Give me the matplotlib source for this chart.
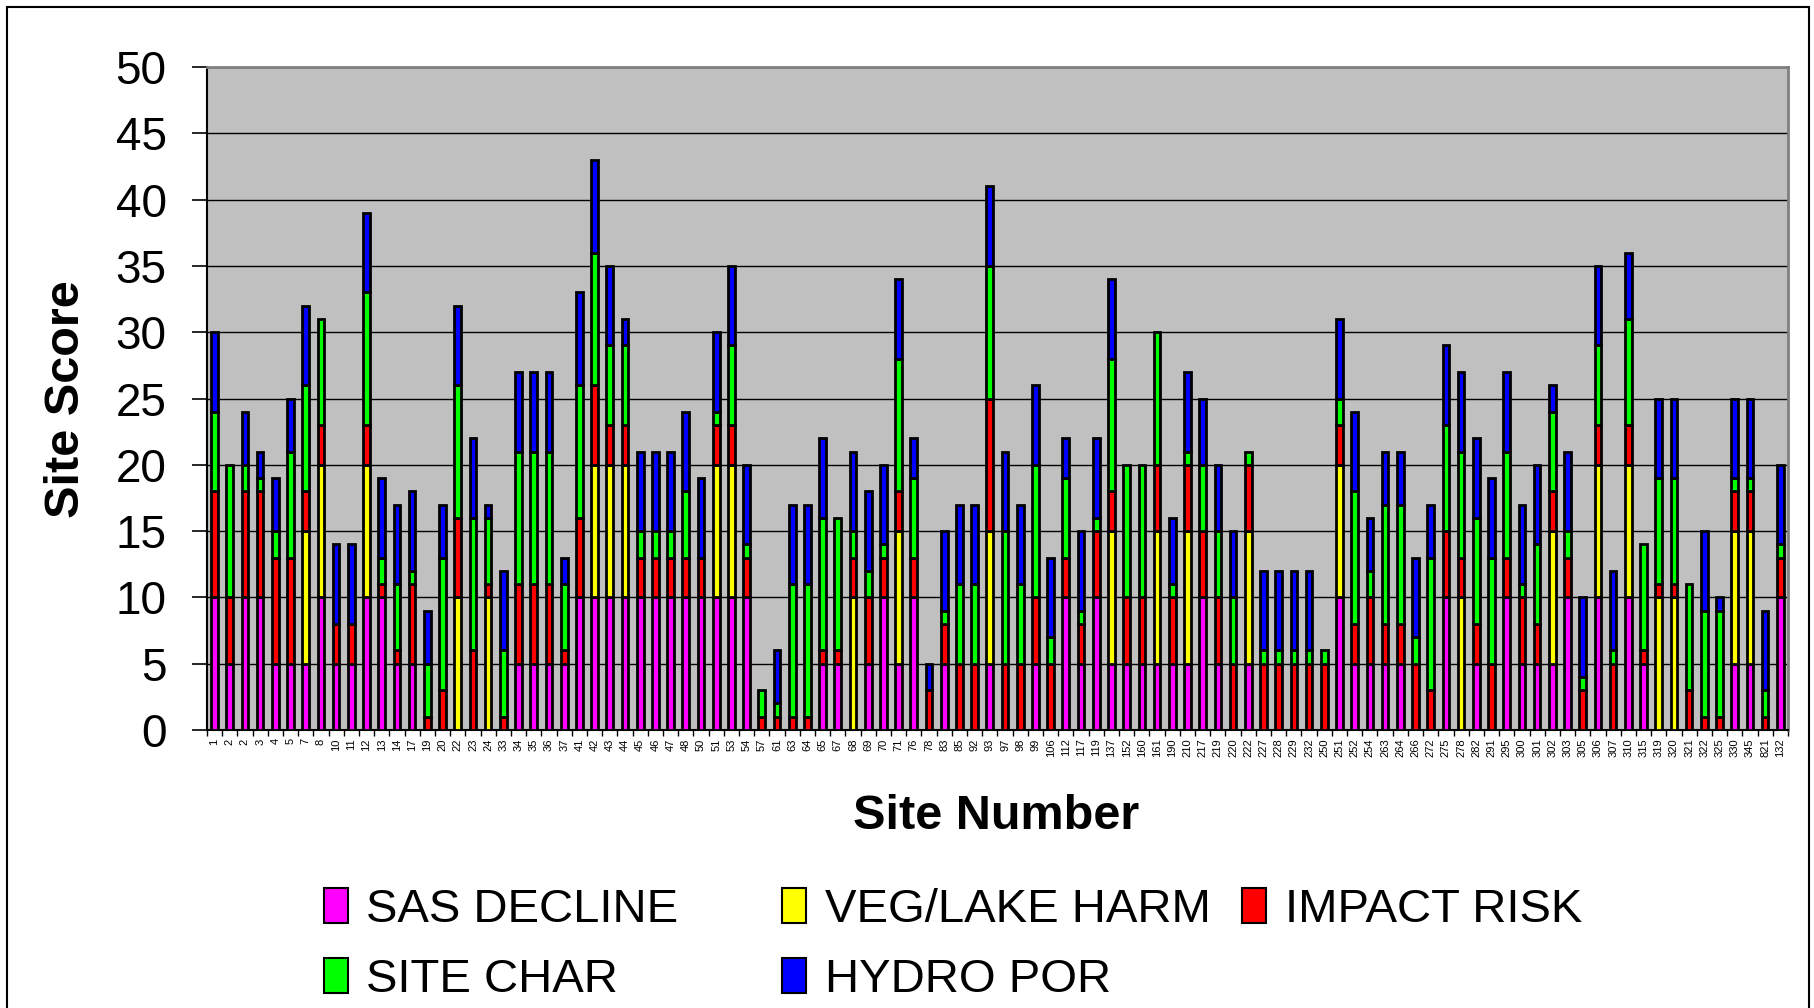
import matplotlib.pyplot as plt
import numpy as np
from matplotlib.patches import Patch, Rectangle

plt.rcParams['font.family'] = ['Liberation Sans', 'DejaVu Sans']

sites = ["1", "2", "2", "3", "4", "5", "7", "8", "10", "11", "12", "13", "14", "17", "19", "20",
         "22", "23", "24", "33", "34", "35", "36", "37", "41", "42", "43", "44", "45", "46", "47",
         "48", "50", "51", "53", "54", "57", "61", "63", "64", "65", "67", "68", "69", "70", "71",
         "76", "78", "83", "85", "92", "93", "97", "98", "99", "106", "112", "117", "119", "137",
         "152", "160", "161", "190", "210", "217", "219", "220", "222", "227", "228", "229", "232",
         "250", "251", "252", "254", "263", "264", "266", "272", "275", "278", "282", "291", "295",
         "300", "301", "302", "303", "305", "306", "307", "310", "315", "319", "320", "321", "322",
         "325", "330", "345", "821", "132"]

sas_decline = [10, 5, 10, 10, 5, 5, 5, 10, 5, 5, 10, 10, 5, 5, 0, 0,
               0, 0, 0, 0, 5, 5, 5, 5, 10, 10, 10, 10, 10, 10, 10,
               10, 10, 10, 10, 10, 0, 0, 0, 0, 5, 5, 0, 5, 10, 5,
               10, 0, 5, 0, 0, 5, 0, 0, 5, 0, 10, 5, 10, 5,
               5, 5, 5, 5, 5, 10, 5, 0, 5, 0, 0, 0, 0,
               0, 10, 5, 5, 5, 5, 0, 0, 10, 0, 5, 0, 10,
               5, 5, 5, 10, 0, 10, 0, 10, 5, 0, 0, 0, 0,
               0, 5, 5, 0, 10]
veg_lake_harm = [0, 0, 0, 0, 0, 0, 10, 10, 0, 0, 10, 0, 0, 0, 0, 0,
                 10, 0, 10, 0, 0, 0, 0, 0, 0, 10, 10, 10, 0, 0, 0,
                 0, 0, 10, 10, 0, 0, 0, 0, 0, 0, 0, 10, 0, 0, 10,
                 0, 0, 0, 0, 0, 10, 0, 0, 0, 0, 0, 0, 0, 10,
                 0, 0, 10, 0, 10, 0, 0, 0, 10, 0, 0, 0, 0,
                 0, 10, 0, 0, 0, 0, 0, 0, 0, 10, 0, 0, 0,
                 0, 0, 10, 0, 0, 10, 0, 10, 0, 10, 10, 0, 0,
                 0, 10, 10, 0, 0]
impact_risk = [8, 5, 8, 8, 8, 8, 3, 3, 3, 3, 3, 1, 1, 6, 1, 3,
               6, 6, 1, 1, 6, 6, 6, 1, 6, 6, 3, 3, 3, 3, 3,
               3, 3, 3, 3, 3, 1, 1, 1, 1, 1, 1, 3, 5, 3, 3,
               3, 3, 3, 5, 5, 10, 5, 5, 5, 5, 3, 3, 5, 3,
               5, 5, 5, 5, 5, 5, 5, 5, 5, 5, 5, 5, 5,
               5, 3, 3, 5, 3, 3, 5, 3, 5, 3, 3, 5, 3,
               5, 3, 3, 3, 3, 3, 5, 3, 1, 1, 1, 3, 1,
               1, 3, 3, 1, 3]
site_char = [6, 10, 2, 1, 2, 8, 8, 8, 0, 0, 10, 2, 5, 1, 4, 10,
             10, 10, 5, 5, 10, 10, 10, 5, 10, 10, 6, 6, 2, 2, 2,
             5, 0, 1, 6, 1, 2, 1, 10, 10, 10, 10, 2, 2, 1, 10,
             6, 0, 1, 6, 6, 10, 10, 6, 10, 2, 6, 1, 1, 10,
             10, 10, 10, 1, 1, 5, 5, 5, 1, 1, 1, 1, 1,
             1, 2, 10, 2, 9, 9, 2, 10, 8, 8, 8, 8, 8,
             1, 6, 6, 2, 1, 6, 1, 8, 8, 8, 8, 8, 8,
             8, 1, 1, 2, 1]
hydro_por = [6, 0, 4, 2, 4, 4, 6, 0, 6, 6, 6, 6, 6, 6, 4, 4,
             6, 6, 1, 6, 6, 6, 6, 2, 7, 7, 6, 2, 6, 6, 6,
             6, 6, 6, 6, 6, 0, 4, 6, 6, 6, 0, 6, 6, 6, 6,
             3, 2, 6, 6, 6, 6, 6, 6, 6, 6, 3, 6, 6, 6,
             0, 0, 0, 5, 6, 5, 5, 5, 0, 6, 6, 6, 6,
             0, 6, 6, 4, 4, 4, 6, 4, 6, 6, 6, 6, 6,
             6, 6, 2, 6, 6, 6, 6, 5, 0, 6, 6, 0, 6,
             1, 6, 6, 6, 6]

series_names = ["SAS DECLINE", "VEG/LAKE HARM", "IMPACT RISK", "SITE CHAR", "HYDRO POR"]
series_colors = ["#FF00FF", "#FFFF00", "#FF0000", "#00FF00", "#0000FF"]
series_values = [sas_decline, veg_lake_harm, impact_risk, site_char, hydro_por]

fig = plt.figure(figsize=(18.15, 10.08), dpi=100)
ax = fig.add_axes([0.1140, 0.2758, 0.8711, 0.6577])
ax.set_facecolor("#C0C0C0")

x = np.arange(len(sites))
bottom = np.zeros(len(sites))
for name, color, vals in zip(series_names, series_colors, series_values):
    vals = np.array(vals, dtype=float)
    keep = vals > 0
    ax.bar(x[keep], vals[keep], bottom=bottom[keep], width=0.44, color=color,
           edgecolor="black", linewidth=2.0, zorder=3)
    bottom += vals

ax.set_xlim(-0.5, len(sites) - 0.5)
ax.set_ylim(0, 50)
ax.set_yticks(np.arange(0, 51, 5))
ax.yaxis.grid(True, color="black", linewidth=1.0)
ax.set_axisbelow(True)
ax.tick_params(axis="y", labelsize=33, length=11, width=1.2, pad=18, direction="out")

ax.set_xticks(x)
ax.set_xticklabels(sites, rotation=90, fontsize=8)
ax.set_xticks(np.arange(-0.5, len(sites), 1.0), minor=True)
ax.tick_params(axis="x", which="major", length=0, pad=6)
ax.tick_params(axis="x", which="minor", length=4, width=1.0, direction="out")

for side in ["left", "bottom"]:
    ax.spines[side].set_color("black")
    ax.spines[side].set_linewidth(1.5)
for side in ["top", "right"]:
    ax.spines[side].set_color("#808080")
    ax.spines[side].set_linewidth(2)

fig.text(0.0364, 0.604, "Site Score", rotation=90, ha="center", va="center",
         fontsize=35, fontweight="bold")
fig.text(0.5487, 0.190, "Site Number", ha="center", va="center",
         fontsize=35, fontweight="bold")

# legend: three columns placed like the original
handles = [Patch(facecolor=c, edgecolor="black", linewidth=1.5) for c in series_colors]
columns = [([0, 3], 0.1785), ([1, 4], 0.4310), ([2], 0.6843)]
for idx, xpos in columns:
    fig.legend([handles[i] for i in idx], [series_names[i] for i in idx],
               loc="upper left", bbox_to_anchor=(xpos, 0.119), frameon=False,
               fontsize=34, handlelength=0.5, handleheight=0.75, handletextpad=0.4,
               labelspacing=0.55, borderpad=0, borderaxespad=0)

border = Rectangle((7 / 1815, -0.05), (1809 - 7) / 1815, 1 - 7 / 1008 + 0.05,
                   transform=fig.transFigure, fill=False, edgecolor="black",
                   linewidth=1.5, clip_on=False)
fig.patches.append(border)

fig.savefig("out.png", dpi=100)
